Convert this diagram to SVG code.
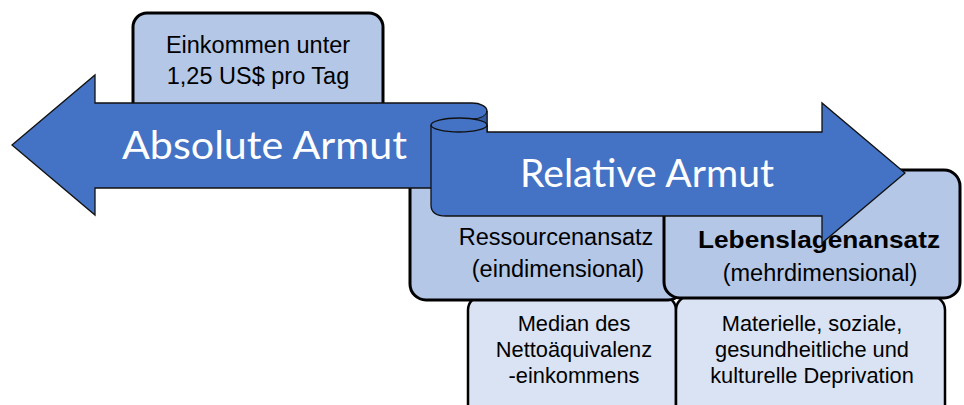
<svg xmlns="http://www.w3.org/2000/svg" width="964" height="405" viewBox="0 0 964 405">
<style>
.box{fill:#B4C7E7;stroke:#000;stroke-width:3}
.sub{fill:#DAE3F3;stroke:#000;stroke-width:2.5}
.arrow{fill:#4472C4;stroke:#111;stroke-width:1.3;stroke-linejoin:miter}
.t{font-family:"Liberation Sans",Arial,sans-serif;fill:#000;text-anchor:middle}
.big{font-family:Lato,"Open Sans",sans-serif;fill:#fff}
</style>
<rect width="964" height="405" fill="#fff"/>
<g id="median">
<rect class="sub" x="468" y="296" width="208" height="130" rx="14"/>
<text class="t" font-size="21.8" x="574" y="331">Median des</text>
<text class="t" font-size="21.8" x="574" y="357">Nettoäquivalenz</text>
<text class="t" font-size="21.8" x="574" y="383">-einkommens</text>
</g>
<g id="deprivation">
<rect class="sub" x="676" y="296" width="269" height="130" rx="14"/>
<text class="t" font-size="21.8" x="812" y="331">Materielle, soziale,</text>
<text class="t" font-size="21.8" x="812" y="357">gesundheitliche und</text>
<text class="t" font-size="21.8" x="812" y="383">kulturelle Deprivation</text>
</g>
<g id="ressourcen">
<rect class="box" x="410" y="150" width="274" height="150" rx="16"/>
<text class="t" font-size="23.5" x="556" y="245">Ressourcenansatz</text>
<text class="t" font-size="23.5" x="558" y="277">(eindimensional)</text>
</g>
<g id="lebenslagen">
<rect class="box" x="664" y="170" width="296" height="128" rx="16"/>
<text class="t" font-size="24" font-weight="bold" x="819" y="248" textLength="242" lengthAdjust="spacingAndGlyphs">Lebenslagenansatz</text>
<text class="t" font-size="23.5" x="820" y="281">(mehrdimensional)</text>
</g>
<g id="einkommen">
<rect class="box" x="133" y="13" width="250" height="110" rx="14"/>
<text class="t" font-size="23.5" x="258" y="53">Einkommen unter</text>
<text class="t" font-size="23.5" x="258" y="84">1,25 US$ pro Tag</text>
</g>
<g id="absolute">
<path class="arrow" d="M12,145 L95,75 L95,103 L472,103 A15 8 0 0 1 487,111 L487,188 L95,188 L95,215 Z"/>
<path d="M487,111 A15 8 0 0 1 472,119 L472,132 L487,132 Z" fill="#33599E" stroke="#111" stroke-width="1"/>
<text class="big" font-size="38" x="122" y="159" textLength="285" lengthAdjust="spacingAndGlyphs">Absolute Armut</text>
</g>
<g id="relative">
<path class="arrow" d="M431,125 A28 7 0 0 1 487,125 L487,132 L822,132 L822,103 L905,173 L822,243 L822,216 L446,216 Q431,216 431,205 Z"/>
<path d="M431,125 A28 7 0 0 0 487,125" fill="none" stroke="#111" stroke-width="1.3"/>
<text class="big" font-size="38" x="520" y="187" textLength="254" lengthAdjust="spacingAndGlyphs">Relative Armut</text>
</g>
<g id="connectors"></g>
</svg>
